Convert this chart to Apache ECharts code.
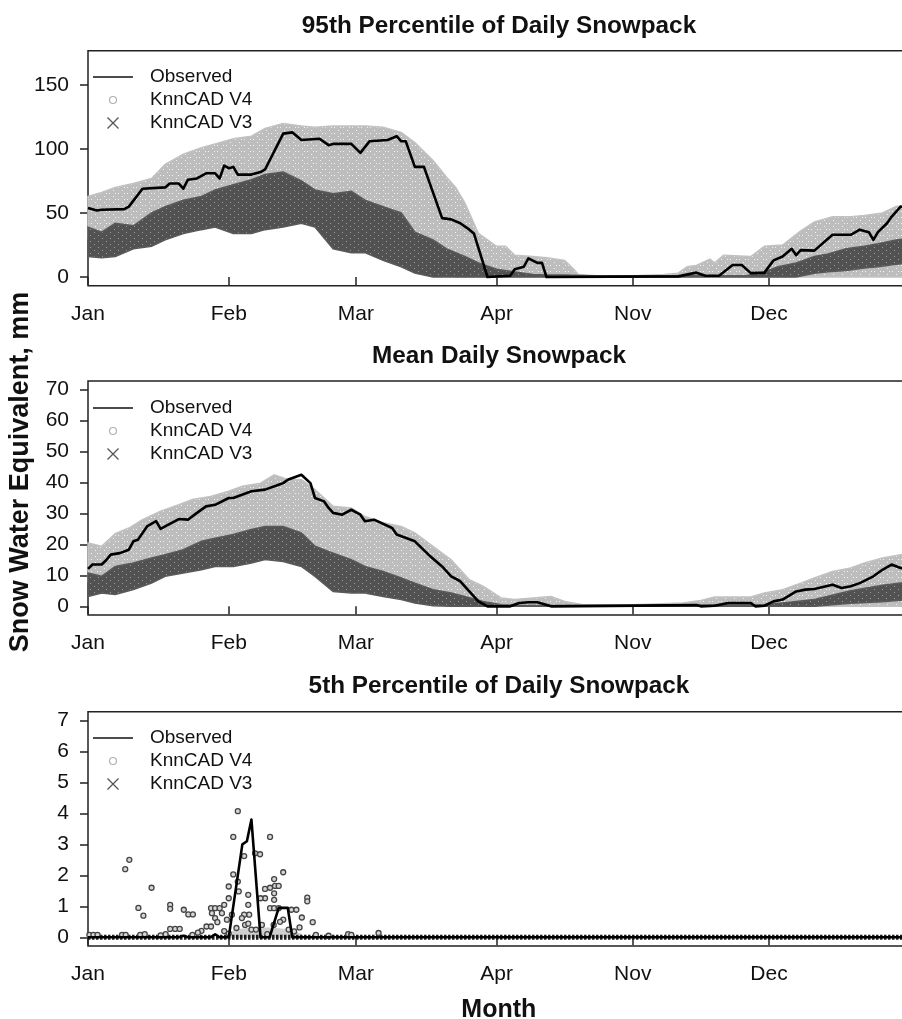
<!DOCTYPE html>
<html>
<head>
<meta charset="utf-8">
<script src="https://cdn.jsdelivr.net/npm/echarts@6/dist/echarts.min.js"></script>
<style>
html, body { margin: 0; padding: 0; background: #ffffff; }
#chart { width: 902px; height: 1019px; }
</style>
</head>
<body>
<div id="chart"></div>
<script>
// Day index counted from 1 January; the snow-free months are skipped, so November follows April.
const monthTickDays = [0, 31, 59, 90, 120, 150];
const monthNames = ['Jan', 'Feb', 'Mar', 'Apr', 'Nov', 'Dec'];

const p1Ticks = [0, 50, 100, 150];
const p2Ticks = [0, 10, 20, 30, 40, 50, 60, 70];
const p3Ticks = [0, 1, 2, 3, 4, 5, 6, 7];

// ---- 95th percentile of daily snowpack (mm) ----
const p1ObsDay = [0, 2, 3, 8, 9, 12, 17, 18, 20, 21, 22, 24, 26, 28, 29, 30, 31, 32, 33, 36, 38, 39, 43, 45, 47, 51, 53, 54, 58, 60, 62, 66, 68, 69, 70, 72, 74, 78, 80, 82, 84, 85, 88, 93, 94, 96, 97, 99, 100, 101, 130, 134, 136, 139, 142, 144, 146, 149, 151, 153, 155, 156, 157, 160, 164, 168, 170, 172, 173, 174, 176, 177, 179, 181];
const p1ObsVal = [54, 52, 52.5, 53, 55, 69, 70, 73, 73, 69, 76, 77, 81, 81, 77, 87, 85, 86, 80, 80, 82, 84, 112, 113, 107, 108, 103, 104, 104, 97, 106, 107, 110, 106, 106, 86, 86, 46, 45, 42, 37, 34, 0, 1, 6, 8, 14.6, 11, 11, 0, 0.5, 3.4, 1, 1, 9.4, 9.4, 3, 3.4, 13, 16, 22, 17, 21, 20.6, 33, 33, 37, 35, 29, 35, 42, 47, 55, 54];

const p1V4Day = [0, 3, 6, 10, 14, 17, 21, 25, 28, 32, 36, 39, 43, 47, 50, 54, 58, 61, 65, 69, 72, 76, 79, 81, 83, 86, 90, 92, 94, 98, 101, 105, 107, 108, 112, 120, 127, 130, 132, 134, 137, 138, 140, 146, 149, 153, 157, 160, 164, 168, 171, 175, 178, 181];
const p1V4Hi = [63, 66, 70, 73, 77, 88, 96, 101, 104, 108, 110, 116, 120, 118, 117, 118, 118, 118, 117, 113, 105, 91, 78, 70, 58, 34, 24, 24, 17, 16, 15, 13, 6, 2, 1, 1, 2, 3, 8, 9, 14, 11, 17, 16, 24, 25, 36, 43, 47, 47, 48, 50, 55, 56];
const p1V4Lo = [30, 28, 32, 32, 40, 45, 50, 52, 58, 62, 66, 70, 72, 66, 58, 52, 52, 48, 42, 38, 22, 10, 5, 0, 0, 0, 0, 0, 0, 0, 0, 0, 0, 0, 0, 0, 0, 0, 0, 0, 0, 0, 0, 0, 0, 0, 0, 0, 0, 0, 0, 0, 0, 0];

const p1V3Day = [0, 3, 6, 10, 14, 17, 21, 25, 28, 32, 36, 39, 43, 47, 50, 54, 58, 61, 65, 69, 72, 76, 79, 83, 86, 90, 94, 98, 101, 105, 110, 120, 130, 140, 145, 149, 152, 156, 160, 163, 167, 171, 174, 178, 181];
const p1V3Hi = [39, 35, 42, 40, 50, 55, 60, 63, 68, 72, 76, 80, 82, 75, 68, 65, 67, 60, 55, 50, 35, 29, 22, 16, 11, 6, 4, 2, 1.5, 1.5, 1, 1, 1, 1, 1, 4, 8, 11, 16, 18, 22, 24, 26, 29, 30];
const p1V3Lo = [16, 15, 16, 22, 24, 29, 34, 37, 39, 34, 34, 37, 39, 42, 39, 22, 19, 19, 13, 8, 3, 0, 0, 0, 0, 0, 0, 0, 0, 0, 0, 0, 0, 0, 0, 0, 0, 0, 3, 4, 5, 7, 8, 10, 11];

// ---- Mean daily snowpack (mm) ----
const p2ObsDay = [0, 1, 3, 4, 5, 7, 9, 10, 11, 13, 15, 16, 17, 20, 22, 24, 26, 28, 31, 32, 36, 39, 42, 43, 44, 47, 49, 50, 52, 53, 54, 56, 58, 60, 61, 63, 67, 68, 72, 75, 78, 80, 82, 84, 86, 88, 93, 95, 97, 99, 102, 134, 135, 138, 141, 146, 147, 149, 151, 153, 156, 158, 160, 164, 166, 168, 170, 173, 175, 177, 179, 181];
const p2ObsVal = [12.1, 13.5, 13.5, 14.9, 16.7, 17.2, 18.3, 21, 21.5, 25.8, 27.5, 25, 25.8, 28.2, 28, 30.2, 32.3, 32.8, 35, 35, 37.2, 37.7, 39.3, 39.8, 40.9, 42.5, 39.8, 35, 33.9, 31.8, 30.2, 29.6, 31.2, 29.6, 27.5, 28, 25.3, 23.2, 21, 16.7, 12.9, 9.7, 8.1, 4.8, 1.6, 0, 0, 1.1, 1.3, 1.3, 0, 0.4, 0, 0.2, 1.1, 1.1, 0, 0.2, 1.6, 2.2, 4.8, 5.4, 5.6, 7, 5.9, 6.5, 7.5, 9.7, 11.8, 13.5, 12.4, 12];

const p2V4Day = [0, 3, 6, 9, 12, 16, 20, 23, 27, 31, 34, 38, 41, 44, 47, 50, 54, 58, 61, 65, 69, 72, 76, 80, 82, 84, 87, 91, 94, 102, 105, 109, 120, 131, 135, 138, 146, 149, 153, 157, 160, 164, 168, 171, 175, 179, 181];
const p2V4Hi = [20.5, 19.4, 23.5, 25.3, 28, 30.7, 32.8, 34.5, 35.5, 37.2, 38.8, 39.8, 42.5, 41, 41, 37.7, 32.3, 31.8, 29, 27, 25.8, 23.7, 19.4, 15, 11.8, 8.6, 6.5, 2.7, 2.2, 3.2, 1.6, 0.5, 0.5, 1.1, 1.9, 3, 3, 4.3, 5.4, 7.5, 9.2, 11.3, 12.4, 14, 15.6, 16.7, 17];
const p2V4Lo = [8, 8, 9, 10, 11, 12, 14, 15, 16, 17, 18, 19, 20, 20, 20, 17, 14, 12, 10, 8, 6, 4, 3, 1, 0, 0, 0, 0, 0, 0, 0, 0, 0, 0, 0, 0, 0, 0, 0, 0, 0, 0, 0, 0, 0, 0, 0];

const p2V3Day = [0, 3, 6, 10, 14, 17, 21, 25, 28, 32, 36, 39, 43, 47, 50, 54, 58, 61, 65, 69, 72, 76, 80, 83, 87, 91, 95, 120, 149, 153, 160, 168, 175, 179, 181];
const p2V3Hi = [10.8, 9.7, 12.9, 14, 15.6, 16.7, 18.3, 21, 22, 23.2, 24.8, 25.8, 25.8, 23.7, 19.4, 17.2, 15.1, 12.9, 11.3, 9.2, 7.5, 5.4, 4.3, 3.2, 1.6, 0.5, 0.3, 0.3, 0.5, 1.1, 2.2, 5, 6.8, 7.5, 7.8];
const p2V3Lo = [3.2, 4.3, 3.8, 5.4, 7.5, 9.7, 10.8, 11.8, 12.9, 12.9, 14, 15.1, 14.5, 12.9, 9.7, 4.8, 4.3, 4.3, 3.2, 2.2, 1.1, 0.2, 0, 0, 0, 0, 0, 0, 0, 0, 0, 1, 1.5, 2, 2];

// ---- 5th percentile of daily snowpack (mm) ----
const p3ObsDay = [0, 20, 21, 22, 27, 28, 29, 31, 34, 35, 36, 38, 40, 42, 44, 45, 181];
const p3ObsVal = [0, 0, 0.05, 0, 0, 0.1, 0, 0, 3.0, 3.1, 3.8, 0, 0, 0.95, 0.95, 0, 0];

const p3V4Day = [8.2, 9.1, 14, 11.1, 12.2, 18.1, 18.1, 21.1, 22.1, 23.1, 18.1, 19.2, 20.2, 17.1, 25, 26.1, 27.1, 27.1, 28, 29, 27.3, 28, 30, 31, 31, 32, 32, 33, 33.2, 33, 34.4, 35.3, 35.3, 36.8, 37.9, 35.5, 34.4, 40.1, 43, 41, 39, 40.1, 41.2, 42, 41, 41, 40.1, 41, 42, 43, 44.8, 45.9, 48.3, 48.3, 47.1, 49.5, 46.6, 39, 38, 38.3, 33.9, 34.6, 35.3, 31.7, 32.7, 30.6, 29.5, 28.5, 40.9, 42.3, 44.2, 45.4, 50.2, 0.3, 1.2, 2.1, 7.5, 8.3, 11.5, 12.5, 16, 57.3, 64, 58, 53, 24.2, 23, 36, 37, 39.5, 30, 31];
const p3V4Val = [2.2, 2.5, 1.6, 0.95, 0.7, 1.05, 0.92, 0.89, 0.74, 0.74, 0.27, 0.27, 0.27, 0.1, 0.21, 0.35, 0.35, 0.94, 0.94, 0.94, 0.78, 0.62, 1.05, 1.26, 1.64, 2.03, 3.24, 4.07, 1.48, 1.8, 2.62, 1.37, 1.05, 2.71, 2.68, 0.73, 0.73, 3.24, 2.1, 1.88, 1.56, 1.6, 1.66, 1.66, 1.42, 1.21, 0.94, 0.94, 0.94, 0.57, 0.89, 0.89, 1.28, 1.16, 0.64, 0.49, 0.32, 1.26, 1.26, 0.4, 0.62, 0.4, 0.44, 0.73, 0.3, 0.57, 0.78, 0.49, 0.4, 0.5, 0.25, 0.19, 0.08, 0.08, 0.08, 0.08, 0.08, 0.08, 0.08, 0.1, 0.06, 0.1, 0.14, 0.08, 0.05, 0.15, 0.08, 0.25, 0.25, 0.1, 0.2, 0.12];
const p3V4BandDay = [30, 33, 36, 40, 44, 47];
const p3V4BandHi = [0.1, 0.25, 0.3, 0.3, 0.25, 0.1];
const p3V4BandLo = [0, 0, 0, 0, 0, 0];
const p3V3Day = [0, 181];
const p3V3Hi = [0, 0];
const p3V3Lo = [0, 0];

const FONT = '"Liberation Sans", Arial, Helvetica, sans-serif';
const INK = '#111111';

// speckled fills that give the ensemble clouds their grainy look
function speckle(w, h, base, dot, dots) {
  const c = document.createElement('canvas');
  c.width = w; c.height = h;
  const g = c.getContext('2d');
  g.fillStyle = base; g.fillRect(0, 0, w, h);
  g.fillStyle = dot;
  dots.forEach(p => g.fillRect(p[0], p[1], 1, 1));
  return { image: c, repeat: 'repeat' };
}
const V4_FILL = speckle(9, 6, '#bdbdbd', '#f2f2f2', [[1, 1], [5, 4], [7, 1]]);
const V3_FILL = speckle(8, 6, '#525252', '#9a9a9a', [[2, 1], [6, 4]]);
const V4_EDGE = '#c2c2c2';
const V3_EDGE = '#5a5a5a';

const chart = echarts.init(document.getElementById('chart'), null, { renderer: 'canvas' });

// plot areas: the day axis runs 0..181, extending slightly past the right page edge
const grids = [
  { left: 88, top: 50.7, width: 821.7, height: 235 },
  { left: 88, top: 381, width: 821.7, height: 234 },
  { left: 88, top: 711.7, width: 821.7, height: 234.3 }
].map(g => Object.assign({
  show: true, borderColor: '#222', borderWidth: 1.5, backgroundColor: 'transparent',
  containLabel: false, outerBoundsMode: 'none'
}, g));

function dayAxis(i, extra) {
  return Object.assign({
    type: 'value', gridIndex: i, min: 0, max: 181,
    axisLine: { show: false },
    splitLine: { show: false },
    axisTick: { show: true, length: 8, customValues: monthTickDays, lineStyle: { color: '#222', width: 1.5 } },
    axisLabel: {
      customValues: monthTickDays, margin: 18, fontSize: 21, color: INK, fontFamily: FONT,
      formatter: v => monthNames[monthTickDays.indexOf(v)]
    }
  }, extra || {});
}

function valueAxis(i, min, max, ticks) {
  return {
    type: 'value', gridIndex: i, min, max,
    axisLine: { show: false },
    splitLine: { show: false },
    axisTick: { show: true, length: 8, customValues: ticks, lineStyle: { color: '#222', width: 1.5 } },
    axisLabel: { customValues: ticks, margin: 19, fontSize: 21, color: INK, fontFamily: FONT }
  };
}

// ensemble spread drawn as a filled envelope between its lower and upper bounds
function bandSeries(name, idx, days, lo, hi, style, z) {
  return {
    type: 'custom', name, xAxisIndex: idx, yAxisIndex: idx, z, silent: true,
    data: days.map((d, i) => [d, lo[i], hi[i]]),
    encode: { x: 0, y: [1, 2] },
    renderItem(params, api) {
      if (params.dataIndex !== 0) return null;
      const top = days.map((d, i) => api.coord([d, hi[i]]));
      const flat = hi.every((v, i) => v === lo[i]);
      if (flat) {
        return { type: 'polyline', shape: { points: top }, style };
      }
      const bottom = days.map((d, i) => api.coord([d, lo[i]])).reverse();
      return { type: 'polygon', shape: { points: top.concat(bottom) }, style };
    }
  };
}

function observedSeries(idx, days, vals) {
  return {
    type: 'line', name: 'Observed', xAxisIndex: idx, yAxisIndex: idx, z: 10,
    data: days.map((d, i) => [d, vals[i]]),
    showSymbol: false, symbol: 'none', silent: true,
    lineStyle: { color: '#000', width: 2.6, join: 'round' }
  };
}

const legendItems = [
  { name: 'Observed', icon: 'path://M0,0M40,11M0,4.8H40V6.2H0Z', itemStyle: { color: '#111', borderWidth: 0 } },
  { name: 'KnnCAD V4', icon: 'path://M0,0M11,11M9,5.5A3.5,3.5,0,1,1,2,5.5A3.5,3.5,0,1,1,9,5.5Z', itemStyle: { color: 'none', borderColor: '#b0b0b0', borderWidth: 1.2 } },
  { name: 'KnnCAD V3', icon: 'path://M0,0L11,11M11,0L0,11', itemStyle: { color: 'none', borderColor: '#555', borderWidth: 1.3 } }
];
function legendAt(top) {
  return {
    left: 93, top, orient: 'vertical', itemWidth: 40, itemHeight: 11, itemGap: 3, padding: 0,
    selectedMode: false, data: legendItems,
    textStyle: { fontSize: 19, color: INK, fontFamily: FONT, lineHeight: 20, padding: [0, 0, 0, 12] }
  };
}

const titleStyle = { fontSize: 24.3, fontWeight: 'bold', color: INK, fontFamily: FONT };

const option = {
  animation: false,
  backgroundColor: '#ffffff',
  title: [
    { text: '95th Percentile of Daily Snowpack', left: 499, top: 14.5, textAlign: 'center', padding: 0, textStyle: titleStyle },
    { text: 'Mean Daily Snowpack', left: 499, top: 344.5, textAlign: 'center', padding: 0, textStyle: titleStyle },
    { text: '5th Percentile of Daily Snowpack', left: 499, top: 674.5, textAlign: 'center', padding: 0, textStyle: titleStyle }
  ],
  legend: [legendAt(67), legendAt(398), legendAt(728)],
  grid: grids,
  xAxis: [
    dayAxis(0), dayAxis(1),
    dayAxis(2, { name: 'Month', nameLocation: 'middle', nameGap: 52, nameTextStyle: { fontSize: 25, fontWeight: 'bold', color: INK, fontFamily: FONT } })
  ],
  yAxis: [
    valueAxis(0, -6.8, 176.8, p1Ticks),
    valueAxis(1, -2.8, 72.8, p2Ticks),
    valueAxis(2, -0.28, 7.28, p3Ticks)
  ],
  graphic: [{
    type: 'text', x: 21, y: 472, rotation: Math.PI / 2,
    style: { text: 'Snow Water Equivalent, mm', fontSize: 27, fontWeight: 'bold', fontFamily: FONT, fill: INK, align: 'center', verticalAlign: 'middle' }
  }],
  series: [
    bandSeries('KnnCAD V4', 0, p1V4Day, p1V4Lo, p1V4Hi, { fill: V4_FILL, stroke: V4_EDGE, lineWidth: 1.5 }, 2),
    bandSeries('KnnCAD V3', 0, p1V3Day, p1V3Lo, p1V3Hi, { fill: V3_FILL, stroke: V3_EDGE, lineWidth: 1.5 }, 3),
    observedSeries(0, p1ObsDay, p1ObsVal),

    bandSeries('KnnCAD V4', 1, p2V4Day, p2V4Lo, p2V4Hi, { fill: V4_FILL, stroke: V4_EDGE, lineWidth: 1.5 }, 2),
    bandSeries('KnnCAD V3', 1, p2V3Day, p2V3Lo, p2V3Hi, { fill: V3_FILL, stroke: V3_EDGE, lineWidth: 1.5 }, 3),
    observedSeries(1, p2ObsDay, p2ObsVal),

    bandSeries('KnnCAD V4', 2, p3V4BandDay, p3V4BandLo, p3V4BandHi, { fill: '#cfcfcf', stroke: '#cfcfcf', lineWidth: 1 }, 2),
    bandSeries('KnnCAD V3', 2, p3V3Day, p3V3Lo, p3V3Hi, { fill: 'none', stroke: '#1e1e1e', lineWidth: 5, lineDash: [2.5, 1.5] }, 3),
    {
      type: 'scatter', name: 'KnnCAD V4', xAxisIndex: 2, yAxisIndex: 2, z: 4, silent: true,
      data: p3V4Day.map((d, i) => [d, p3V4Val[i]]),
      symbol: 'circle', symbolSize: 5,
      itemStyle: { color: '#d6d6d6', borderColor: '#444', borderWidth: 1.3, opacity: 1 }
    },
    observedSeries(2, p3ObsDay, p3ObsVal)
  ]
};

chart.setOption(option);
</script>
</body>
</html>
